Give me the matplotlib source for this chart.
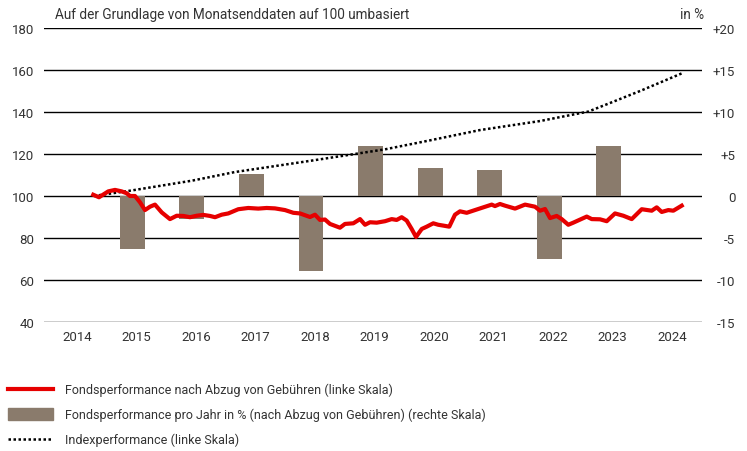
import matplotlib
matplotlib.use("Agg")
import matplotlib.pyplot as plt
from matplotlib.lines import Line2D
from matplotlib.patches import Rectangle
from matplotlib.transforms import ScaledTranslation

plt.rcParams["font.family"] = ["Roboto", "DejaVu Sans"]
plt.rcParams["font.size"] = 9.5

# Jahresbalken (rechte Skala, in %)
bar_years = [2015, 2016, 2017, 2018, 2019, 2020, 2021, 2022, 2023]
bar_values = [-6.3, -2.7, 2.6, -8.9, 5.9, 3.3, 3.1, -7.5, 5.9]

# Fondsperformance (linke Skala, auf 100 umbasiert)
fund_x = [2014.341, 2014.437, 2014.593, 2014.706, 2014.818, 2014.903, 2014.958,
          2015.042, 2015.126, 2015.210, 2015.294, 2015.378, 2015.491, 2015.630,
          2015.743, 2015.854, 2015.966, 2016.079, 2016.190, 2016.303, 2016.387,
          2016.499, 2016.610, 2016.778, 2016.946, 2017.114, 2017.255, 2017.395,
          2017.563, 2017.703, 2017.815, 2017.983, 2018.067, 2018.151, 2018.235,
          2018.319, 2018.487, 2018.571, 2018.711, 2018.824, 2018.908, 2018.992,
          2019.104, 2019.244, 2019.356, 2019.440, 2019.524, 2019.608, 2019.692,
          2019.765, 2019.861, 2019.945, 2020.055, 2020.139, 2020.224, 2020.324,
          2020.420, 2020.504, 2020.617, 2020.756, 2020.896, 2021.037, 2021.092,
          2021.176, 2021.261, 2021.429, 2021.597, 2021.765, 2021.849, 2021.933,
          2022.017, 2022.129, 2022.213, 2022.324, 2022.408, 2022.509, 2022.634,
          2022.718, 2022.857, 2022.970, 2023.109, 2023.249, 2023.390, 2023.558,
          2023.726, 2023.810, 2023.894, 2024.005, 2024.089, 2024.230]
fund_y = [100.6, 99.4, 102.2, 102.9, 102.2, 101.3, 100.0,
          100.0, 97.0, 93.3, 94.9, 95.9, 92.2, 89.0,
          90.6, 90.5, 89.9, 90.6, 91.0, 90.5, 89.9,
          91.1, 91.7, 93.7, 94.3, 94.0, 94.3, 94.1,
          93.3, 92.0, 91.7, 90.0, 91.1, 88.6, 88.8,
          86.7, 84.9, 86.7, 87.0, 89.0, 86.3, 87.5,
          87.3, 88.0, 89.0, 88.6, 89.9, 88.3, 84.3,
          80.5, 84.3, 85.4, 87.0, 86.3, 85.9, 85.4,
          91.1, 92.7, 92.0, 93.3, 94.6, 95.9, 95.2,
          96.2, 95.4, 94.0, 95.9, 94.9, 93.0, 93.8,
          89.5, 90.5, 89.0, 86.3, 87.3, 88.6, 90.2,
          89.0, 88.9, 88.0, 91.7, 90.6, 89.0, 93.7,
          93.0, 94.6, 92.4, 93.3, 93.0, 95.4]

# Indexperformance (linke Skala)
index_x = [2014.35, 2015.0, 2016.0, 2016.72, 2018.0, 2019.24, 2020.0, 2020.84,
           2021.85, 2022.3, 2022.66, 2023.0, 2023.53, 2024.24]
index_y = [100.0, 102.7, 107.3, 111.4, 116.8, 122.2, 126.5, 131.4,
           135.7, 138.2, 140.2, 144.0, 150.0, 158.5]

years = list(range(2014, 2025))
left_ticks = [40, 60, 80, 100, 120, 140, 160, 180]
right_ticks = [-15, -10, -5, 0, 5, 10, 15, 20]
right_labels = ["-15", "-10", "-5", "0", "+5", "+10", "+15", "+20"]

RED = "#e60000"
BROWN = "#8a7b6c"
TXT = "#333333"

fig = plt.figure(figsize=(7.47, 4.52), dpi=100)
ax = fig.add_axes([44 / 747, 1 - 323 / 452, 658 / 747, 294 / 452])
ax2 = ax.twinx()
ax.set_zorder(ax2.get_zorder() + 1)
ax.patch.set_visible(False)

# Balken und Gitter auf der rechten Achse
ax2.set_axisbelow(True)
ax2.bar(bar_years, bar_values, width=0.42, color=BROWN, zorder=2)
ax2.set_ylim(-15, 20)
ax2.set_yticks(right_ticks)
ax2.set_yticklabels(right_labels)
ax2.grid(axis="y", color="black", linewidth=1.0)
ax2.tick_params(axis="y", length=0, pad=24)
for lab in ax2.get_yticklabels():
    lab.set_horizontalalignment("right")
    lab.set_color(TXT)

ax.plot(index_x, index_y, color="black", linestyle=(0, (1, 1)), linewidth=1.8, zorder=3)
ax.plot(fund_x, fund_y, color=RED, linewidth=3.0, zorder=4, solid_joinstyle="round")
ax.set_ylim(40, 180)
ax.set_yticks(left_ticks)
ax.set_xlim(2013.513, 2024.571)
ax.set_xticks(years)
ax.tick_params(length=0, colors=TXT)
ax.tick_params(axis="y", pad=7)
ax.tick_params(axis="x", pad=6)
for lab in ax.get_xticklabels():
    lab.set_transform(lab.get_transform() + ScaledTranslation(4 / 100, 0, fig.dpi_scale_trans))

for a in (ax, ax2):
    for s in a.spines.values():
        s.set_visible(False)

fig.text(55 / 747, 1 - 15 / 452, "Auf der Grundlage von Monatsenddaten auf 100 umbasiert",
         fontsize=9.8, color=TXT, va="center")
fig.text(704 / 747, 1 - 15 / 452, "in %", fontsize=9.8, color=TXT, va="center", ha="right")

# Legende
leg_texts = ["Fondsperformance nach Abzug von Gebühren (linke Skala)",
             "Fondsperformance pro Jahr in % (nach Abzug von Gebühren) (rechte Skala)",
             "Indexperformance (linke Skala)"]
rows = [1 - 390 / 452, 1 - 415 / 452, 1 - 440 / 452]
fig.add_artist(Line2D([8 / 747, 53 / 747], [rows[0], rows[0]], color=RED, linewidth=3.0))
fig.add_artist(Rectangle((8 / 747, rows[1] - 6 / 452), 45 / 747, 12 / 452, color=BROWN))
fig.add_artist(Line2D([8 / 747, 51 / 747], [rows[2], rows[2]], color="black",
                      linestyle=(0, (1, 1)), linewidth=1.8))
for r, t in zip(rows, leg_texts):
    fig.text(65 / 747, r, t, fontsize=9.0, color=TXT, va="center")

fig.savefig("out.png", dpi=100)
